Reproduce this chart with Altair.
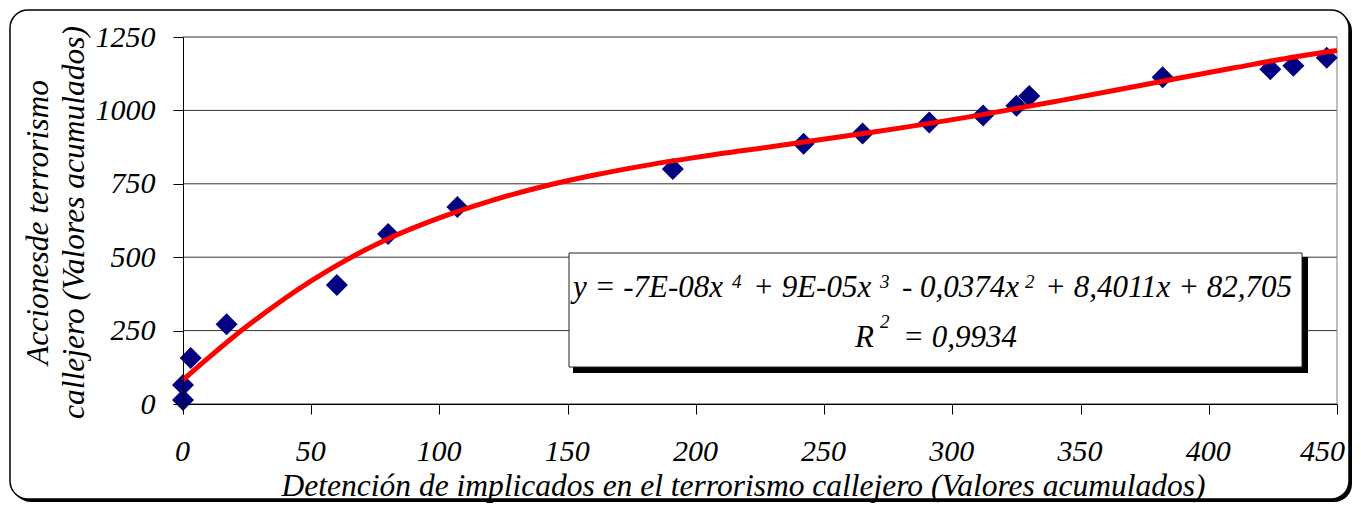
import altair as alt
import pandas as pd

# Data
detenciones = [0, 0, 3, 17, 60, 80, 107, 191, 242, 265, 291, 312, 325, 330, 382, 424, 433, 446]
acciones = [14, 65, 157, 272, 405, 579, 671, 800, 886, 921, 959, 983, 1016, 1049, 1113, 1140, 1152, 1179]
# Polynomial trend line (order 4) as drawn in the reference
trend_x = [0, 10, 20, 30, 40, 50, 60, 70, 80, 100, 120, 140, 160, 180, 200, 230, 270, 310, 340, 380, 410, 434, 450]
trend_y = [82, 158, 231, 298, 361, 419, 472, 520, 563, 634, 692, 740, 779, 812, 840, 877, 927, 983, 1030, 1096, 1145, 1183, 1204]
x_ticks = [0, 50, 100, 150, 200, 250, 300, 350, 400, 450]
y_ticks = [0, 250, 500, 750, 1000, 1250]
x_title = "Detención de implicados en el terrorismo callejero (Valores acumulados)"
y_title = ["Accionesde terrorismo", "callejero (Valores acumulados)"]
eq_line1 = ["y = -7E-08x", "4", "+ 9E-05x", "3", "- 0,0374x", "2", "+ 8,4011x + 82,705"]
eq_line2 = ["R", "2", "= 0,9934"]

FONT = "Liberation Serif"
W, H = 1154, 367

df = pd.DataFrame({"x": detenciones, "y": acciones})
trend_df = pd.DataFrame({"x": trend_x, "y": trend_y})
x_scale = alt.Scale(domain=[0, 450], nice=False, zero=False)
y_scale = alt.Scale(domain=[0, 1250], nice=False, zero=False)

x_axis = alt.Axis(values=x_ticks, grid=False, tickSize=10, tickColor="black", domainColor="black",
                  labelPadding=22, labelFlush=False, format="d",
                  labelOffset={"condition": {"test": "datum.value === 450", "value": -15}, "value": -1},
                  title=x_title, titleX=560, titleY=91,
                  titleAlign="center", titleBaseline="alphabetic", zindex=1)
y_axis = alt.Axis(values=y_ticks, grid=False, tickSize=10, tickColor="black", domainColor="black",
                  labelPadding=18, labelFlush=False, format="d", title=y_title, titleX=-136, titleY=185,
                  titleAngle=270, titleAlign="center", titleBaseline="alphabetic",
                  titleLineHeight=36, zindex=1)

X = alt.X("x:Q", scale=x_scale, axis=x_axis)
Y = alt.Y("y:Q", scale=y_scale, axis=y_axis)

one = pd.DataFrame({"k": [0]})

frame_shadow = alt.Chart(one).mark_rect(color="black", cornerRadius=18).encode(
    x=alt.value(-170), x2=alt.value(1169), y=alt.value(-24), y2=alt.value(465))
frame = alt.Chart(one).mark_rect(fill="white", stroke="black", strokeWidth=1.5, cornerRadius=18).encode(
    x=alt.value(-173), x2=alt.value(1166), y=alt.value(-27), y2=alt.value(462))

grid = alt.Chart(pd.DataFrame({"y": y_ticks})).mark_rule(color="#333333", strokeWidth=1).encode(y=Y)
right_border = alt.Chart(pd.DataFrame({"x": [450]})).mark_rule(color="#808080", strokeWidth=1).encode(x=X)

points = alt.Chart(df).mark_point(shape="diamond", filled=True, size=484, color="#000080", opacity=1).encode(
    x=X, y=Y)

trend = alt.Chart(trend_df).mark_line(color="#FF0000", strokeWidth=5, interpolate="monotone").encode(
    x=X, y=Y)

box_shadow = alt.Chart(one).mark_rect(color="black").encode(
    x=alt.value(390), x2=alt.value(1125), y=alt.value(220), y2=alt.value(336))
box = alt.Chart(one).mark_rect(fill="white", stroke="#222222", strokeWidth=1).encode(
    x=alt.value(386), x2=alt.value(1119), y=alt.value(216), y2=alt.value(330))

line1_x = [390, 549, 570, 697, 719, 842, 862]
line1_sup = [False, True, False, True, False, True, False]
line2_x = [672, 697, 720]
line2_sup = [False, True, False]

texts = []
for parts, xs, sups, base_y, sup_y in [(eq_line1, line1_x, line1_sup, 260, 251),
                                        (eq_line2, line2_x, line2_sup, 310, 291)]:
    for t, px, sup in zip(parts, xs, sups):
        texts.append(
            alt.Chart(pd.DataFrame({"t": [t]})).mark_text(
                align="left", baseline="alphabetic", font=FONT, fontStyle="italic",
                fontSize=19 if sup else 31, color="black"
            ).encode(text="t:N", x=alt.value(px), y=alt.value(sup_y if sup else base_y))
        )

chart = alt.layer(frame_shadow, frame, grid, right_border, points, trend, box_shadow, box, *texts).properties(
    width=W, height=H,
    autosize=alt.AutoSizeParams(type="none"),
    padding={"left": 175, "top": 29, "right": 16, "bottom": 99},
    background="white",
).configure_view(stroke=None).configure_axis(
    labelFont=FONT, labelFontStyle="italic", labelFontSize=30, labelColor="black",
    titleFont=FONT, titleFontStyle="italic", titleFontSize=31.5, titleFontWeight="normal", titleColor="black",
)

chart.save("out.html", embed_options={"renderer": "svg", "actions": False})
